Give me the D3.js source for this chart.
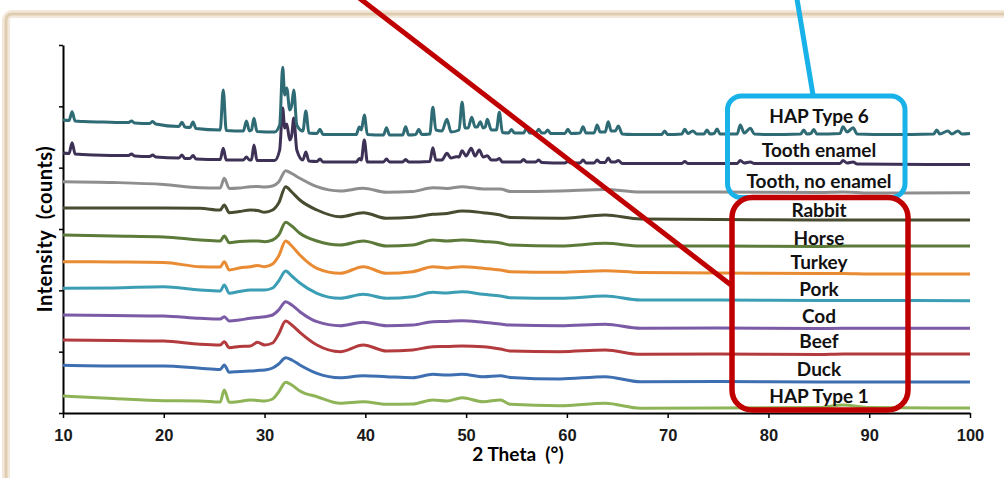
<!DOCTYPE html>
<html>
<head>
<meta charset="utf-8">
<script src="https://cdn.jsdelivr.net/npm/d3@7"></script>
<style>
    body { margin: 0; background: #fff; }
    svg { display: block; font-family: Lato, "Open Sans", sans-serif; }
</style>
</head>
<body>
<svg id="xrd" width="1004" height="478"></svg>
<script>
// sample names, top trace first
var samples = ["HAP Type 6", "Tooth enamel", "Tooth, no enamel", "Rabbit", "Horse",
    "Turkey", "Pork", "Cod", "Beef", "Duck", "HAP Type 1"];

var xTicks = [10, 20, 30, 40, 50, 60, 70, 80, 90, 100];

// crystalline patterns, [2 theta, intensity] (stacked, arbitrary units)
var hapType6 = [[10, 293], [10.6, 292.5], [10.9, 301.3], [11.2, 292], [12, 291.5], [14, 291],
    [16.5, 290.5], [16.8, 292], [17.1, 290], [18.6, 289.5], [18.9, 291.5], [19.2, 289],
    [21.5, 286.5], [21.8, 290.7], [22.1, 286], [22.6, 285.5], [22.9, 291], [23.2, 284.5],
    [25.6, 283], [25.9, 323], [26.2, 282.5], [27.9, 282], [28.2, 292], [28.5, 282], [28.7, 283],
    [28.95, 294.7], [29.25, 281.5], [31, 281], [31.5, 288], [31.8, 345.7], [32, 318], [32.2, 325],
    [32.5, 303], [32.7, 308], [32.9, 323], [33.2, 288], [33.8, 282], [34.1, 302], [34.4, 280],
    [35.2, 279.5], [35.5, 283.7], [35.8, 278.5], [39.1, 278.5], [39.4, 286], [39.6, 283], [39.9, 298],
    [40.2, 278.5], [41.8, 278], [42.1, 285.3], [42.4, 278], [43.7, 278], [44, 286.3], [44.3, 278],
    [45, 278.5], [45.3, 283.7], [45.6, 278.5], [46.4, 279], [46.7, 305.7], [47, 283], [47.6, 282],
    [48.1, 293.7], [48.5, 281], [49.3, 283], [49.6, 310.7], [49.9, 285], [50.2, 285], [50.55, 295.7],
    [50.9, 286], [51.1, 286], [51.4, 291.3], [51.7, 285], [51.9, 286], [52.1, 293.7], [52.5, 283],
    [53, 283], [53.3, 300.7], [53.6, 280.5], [54.2, 280], [54.5, 283.5], [54.8, 280], [55.7, 280],
    [56, 284.7], [56.3, 280], [56.9, 280], [57.2, 283.7], [57.5, 280], [57.8, 280], [58.1, 283],
    [58.4, 279.5], [59.8, 279.5], [60.1, 283.7], [60.4, 279.5], [61.3, 280], [61.6, 286.3], [61.9, 280],
    [62.7, 280], [63, 288], [63.3, 281], [63.8, 281], [64.1, 291.3], [64.4, 282], [64.8, 282],
    [65.1, 287], [65.5, 279], [66.5, 278.5], [69.4, 278.5], [69.7, 282], [70, 278.5], [71.4, 279],
    [71.7, 283.7], [72, 279.5], [72.5, 282], [72.9, 279], [73.6, 279], [73.9, 283], [74.2, 279],
    [74.6, 279.5], [74.9, 284], [75.2, 279], [76.9, 279], [77.2, 288], [77.6, 280], [78.2, 284.7],
    [78.6, 279], [80, 278.5], [83.2, 279], [83.5, 283], [83.8, 279], [84.2, 279.5], [84.5, 283.5],
    [84.8, 279], [87.1, 279.5], [87.4, 286.3], [87.8, 281], [88.4, 285.3], [88.8, 279], [92, 278.5],
    [96.4, 279], [96.7, 283], [97, 279], [97.8, 282], [98.2, 279], [98.8, 282], [99.2, 279], [100, 279.5]];

var toothEnamel = [[10, 260], [10.6, 259.5], [10.9, 270.3], [11.2, 259], [13, 258], [16.5, 257.5],
    [16.8, 259], [17.1, 257], [18.6, 256.5], [18.9, 258], [19.2, 256], [21.5, 255], [21.8, 258],
    [22.1, 254.5], [22.6, 254.5], [22.9, 257.5], [23.2, 254], [25.6, 253.5], [25.9, 264.7], [26.2, 253],
    [27.9, 253], [28.2, 256], [28.5, 253], [28.7, 253], [28.95, 268], [29.25, 252.5], [31, 252.5],
    [31.5, 263], [31.8, 305], [32, 285], [32.2, 289], [32.5, 273], [32.7, 278], [32.9, 295], [33.2, 263],
    [33.8, 253], [34.1, 261], [34.4, 252], [35.2, 251.5], [35.5, 254], [35.8, 251], [39.1, 251],
    [39.4, 254.5], [39.6, 253], [39.9, 273], [40.2, 251], [41.8, 251], [42.1, 254], [42.4, 251],
    [43.7, 251], [44, 253.5], [44.3, 251], [46.4, 251.5], [46.7, 265.3], [47, 253], [47.6, 253],
    [48.1, 259.7], [48.5, 255], [49, 256.3], [49.3, 256], [49.6, 262.3], [50, 257], [50.5, 264.7],
    [50.9, 257], [51.3, 263], [51.7, 256], [52.1, 257.3], [52.5, 253], [53, 253], [53.3, 254.5],
    [53.6, 251], [55.4, 251], [55.7, 253.5], [56, 251], [56.9, 251], [57.2, 253], [57.5, 250.5],
    [59.8, 250], [60.1, 251.5], [60.4, 250], [61.3, 250], [61.6, 253], [61.9, 250], [62.7, 250],
    [63, 253], [63.3, 250.5], [63.8, 250.5], [64.1, 255], [64.4, 251], [64.8, 251], [65.1, 252.5],
    [65.5, 249.5], [71.4, 249.5], [71.7, 251.5], [72, 249.5], [76.9, 249.5], [77.2, 252.5], [77.6, 250],
    [78.2, 251], [78.6, 249.5], [87.1, 249.5], [87.4, 252.5], [87.8, 250], [88.4, 251], [88.8, 249],
    [100, 248.5]];

// bone and dentine patterns share one 2 theta grid
var broadTheta = [10, 15, 20, 23.6, 25.6, 26, 26.5, 27.5, 28.6, 29.3, 30, 30.8, 31.4, 32.1, 32.7,
    33.5, 35.2, 37.5, 39.8, 42.1, 44.7, 46.7, 48.1, 49.6, 51.7, 53.4, 54.4, 59.3, 63.8, 67.3, 75,
    85, 87.4, 90, 100];

var toothNoEnamel = [231.3, 230.5, 228.5, 225.3, 225, 234.7, 224.5, 225, 226.3, 226.5, 226, 227, 231,
    242.3, 239.5, 234.7, 226.3, 222, 224.7, 220.7, 221.5, 225.3, 224.5, 226.3, 224, 224, 221.5, 222,
    223.5, 221, 221, 220.5, 221, 220, 220.3];
var rabbit = [205, 205, 205, 204.7, 203, 208, 200.3, 201.5, 203, 202.5, 200.7, 203, 210, 226.3, 221,
    213, 203, 196.3, 200.3, 194.7, 195.7, 198.7, 199.5, 202, 200.3, 198, 195.5, 194.7, 198, 194,
    193.5, 193, 193, 193, 193];
var horse = [178, 177, 176, 173, 172, 177, 170.3, 171.5, 172, 172, 171.3, 173, 178, 190.7, 187, 179.7,
    172, 168, 172, 167, 168, 173, 172, 173, 171.5, 170, 168, 167, 169.7, 167, 167, 166.5, 167, 167, 167];
var turkey = [151.3, 151, 150.5, 146.3, 146, 151.3, 143, 145, 146.3, 147.5, 146.3, 149, 157, 172, 167,
    158, 144.7, 139.7, 146.3, 139.7, 141.3, 146.3, 145, 146.3, 144.7, 143, 141.3, 140.7, 142.3, 140.5,
    140, 139.5, 139.5, 139, 139];
var pork = [124.7, 125, 126.3, 123, 122, 128, 119.7, 121.5, 123, 123, 123, 125, 132, 142, 137, 130,
    119.7, 114.7, 118.7, 114.7, 116.3, 120.7, 120, 121.3, 118.7, 117, 115.3, 114.7, 117, 113, 113,
    112.5, 112.5, 112.5, 112.3];
var cod = [98, 97.5, 97, 94.7, 94, 96.3, 92, 93, 94.7, 95.5, 96.3, 98, 103, 111.3, 108, 101.3, 91.3,
    87.3, 90.7, 87.3, 88, 91.3, 91.5, 92.3, 90.7, 89, 88, 87.3, 88.7, 84.7, 85, 84.5, 84.7, 84.7, 84.7];
var beef = [73, 72.5, 72, 68.7, 68, 71.3, 65.3, 66.5, 67, 70.7, 68, 70, 79, 92, 88, 80.7, 68, 61.3, 68,
    62, 63, 66.3, 66.5, 67, 66.3, 64, 62, 61.3, 63, 58.7, 59, 58.5, 59, 59, 59];
var duck = [47.7, 47, 47, 44.7, 43.5, 48, 40.7, 41.5, 42, 42.5, 43, 45, 49, 55.3, 53, 48, 39.7, 35.3,
    37.3, 36.3, 35.3, 38.7, 38, 38.7, 36.3, 37.3, 35.5, 34, 36.3, 31.3, 31.5, 31, 31, 31, 31];
var hapType1 = [17, 14.5, 12.3, 12, 11, 23, 10.7, 11.5, 13, 12.5, 12, 14, 21, 30.7, 28, 22, 16.3, 9.7,
    11.3, 8.7, 9, 13, 12, 15.3, 11.3, 13, 8.7, 7.3, 9.7, 4.7, 5, 5.5, 8, 5.5, 5];

var colors = ["#2f6b74", "#3e3156", "#8e8e8e", "#494c31", "#5c7a3a", "#e98b33",
    "#3b9eb5", "#7b5aa6", "#b33b3d", "#3e6fb1", "#8fb457"];
var labelShift = [-10.5, -7.5, -4.5, -3, -1.5, -5.5, -4.5, -5.5, -6, -6, -5.5];

function onGrid(vals) {
    return broadTheta.map((t, i) => [t, vals[i]]);
}

var patterns = [hapType6, toothEnamel, onGrid(toothNoEnamel), onGrid(rabbit), onGrid(horse),
    onGrid(turkey), onGrid(pork), onGrid(cod), onGrid(beef), onGrid(duck), onGrid(hapType1)];

var svg = d3.select("svg#xrd");

var x = d3.scaleLinear().domain([10, 100]).range([63, 970]);
var y = d3.scaleLinear().domain([0, 368]).range([413, 45]);

// slide frame
svg.append("rect")
    .attr("x", 6).attr("y", 14).attr("width", 1100).attr("height", 600).attr("rx", 6)
    .attr("fill", "none").attr("stroke", "#f2e9dc").attr("stroke-width", 8);
svg.append("rect")
    .attr("x", 6).attr("y", 14).attr("width", 1100).attr("height", 600).attr("rx", 6)
    .attr("fill", "none").attr("stroke", "#e0cdb0").attr("stroke-width", 3);

// axes
var xAxis = svg.append("g")
    .attr("transform", "translate(0," + y(0) + ")")
    .call(d3.axisBottom(x).tickValues(xTicks).tickSize(5).tickSizeOuter(0).tickPadding(11));
xAxis.selectAll("text").style("font-size", "16.5px").style("font-weight", "bold").attr("fill", "#1a1a1a");

var yAxis = svg.append("g")
    .attr("transform", "translate(" + x(10) + ",0)")
    .call(d3.axisLeft(y).tickValues(d3.range(0, 369, 368 / 6)).tickSize(4).tickSizeOuter(0).tickFormat(""));

svg.selectAll(".domain").attr("stroke", "#000").attr("stroke-width", 2);
svg.selectAll(".tick line").attr("stroke", "#000").attr("stroke-width", 1.5);

svg.append("text")
    .attr("x", 518).attr("y", 461)
    .attr("text-anchor", "middle")
    .style("white-space", "pre")
    .style("font-size", "19px").style("font-weight", "bold")
    .text("2 Theta  (\u00b0)");

svg.append("text")
    .attr("transform", "translate(52,229) rotate(-90)")
    .attr("text-anchor", "middle")
    .style("white-space", "pre")
    .style("font-size", "20px").style("font-weight", "bold")
    .style("letter-spacing", "0.5px")
    .text("Intensity  (counts)");

// traces, bottom first so the top pattern sits in front
var line = d3.line()
    .x(d => x(d[0]))
    .y(d => y(d[1]))
    .curve(d3.curveMonotoneX);

var order = d3.range(patterns.length).reverse();
svg.append("g").selectAll("path")
    .data(order)
    .enter()
    .append("path")
    .attr("d", i => line(patterns[i]))
    .attr("fill", "none")
    .attr("stroke", i => colors[i])
    .attr("stroke-width", 3)
    .attr("stroke-linejoin", "round");

// call-outs
svg.append("line")
    .attr("x1", 354).attr("y1", -6).attr("x2", 731).attr("y2", 285)
    .attr("stroke", "#c00000").attr("stroke-width", 5);
svg.append("line")
    .attr("x1", 796.5).attr("y1", -4).attr("x2", 813).attr("y2", 95)
    .attr("stroke", "#19b2e8").attr("stroke-width", 5);

svg.append("rect")
    .attr("x", 727.5).attr("y", 96).attr("width", 177.5).attr("height", 101.5).attr("rx", 14)
    .attr("fill", "none").attr("stroke", "#19b2e8").attr("stroke-width", 5);
svg.append("rect")
    .attr("x", 732).attr("y", 197.5).attr("width", 176).attr("height", 212.5).attr("rx", 20)
    .attr("fill", "none").attr("stroke", "#c00000").attr("stroke-width", 5.5);

svg.append("g").selectAll("text")
    .data(samples)
    .enter()
    .append("text")
    .attr("x", 819)
    .attr("y", (d, i) => {
        var pts = patterns[i];
        return y(pts[pts.length - 1][1]) + labelShift[i];
    })
    .attr("text-anchor", "middle")
    .style("font-size", "19px")
    .style("font-weight", "bold")
    .attr("fill", "#111")
    .text(d => d);
</script>
</body>
</html>
